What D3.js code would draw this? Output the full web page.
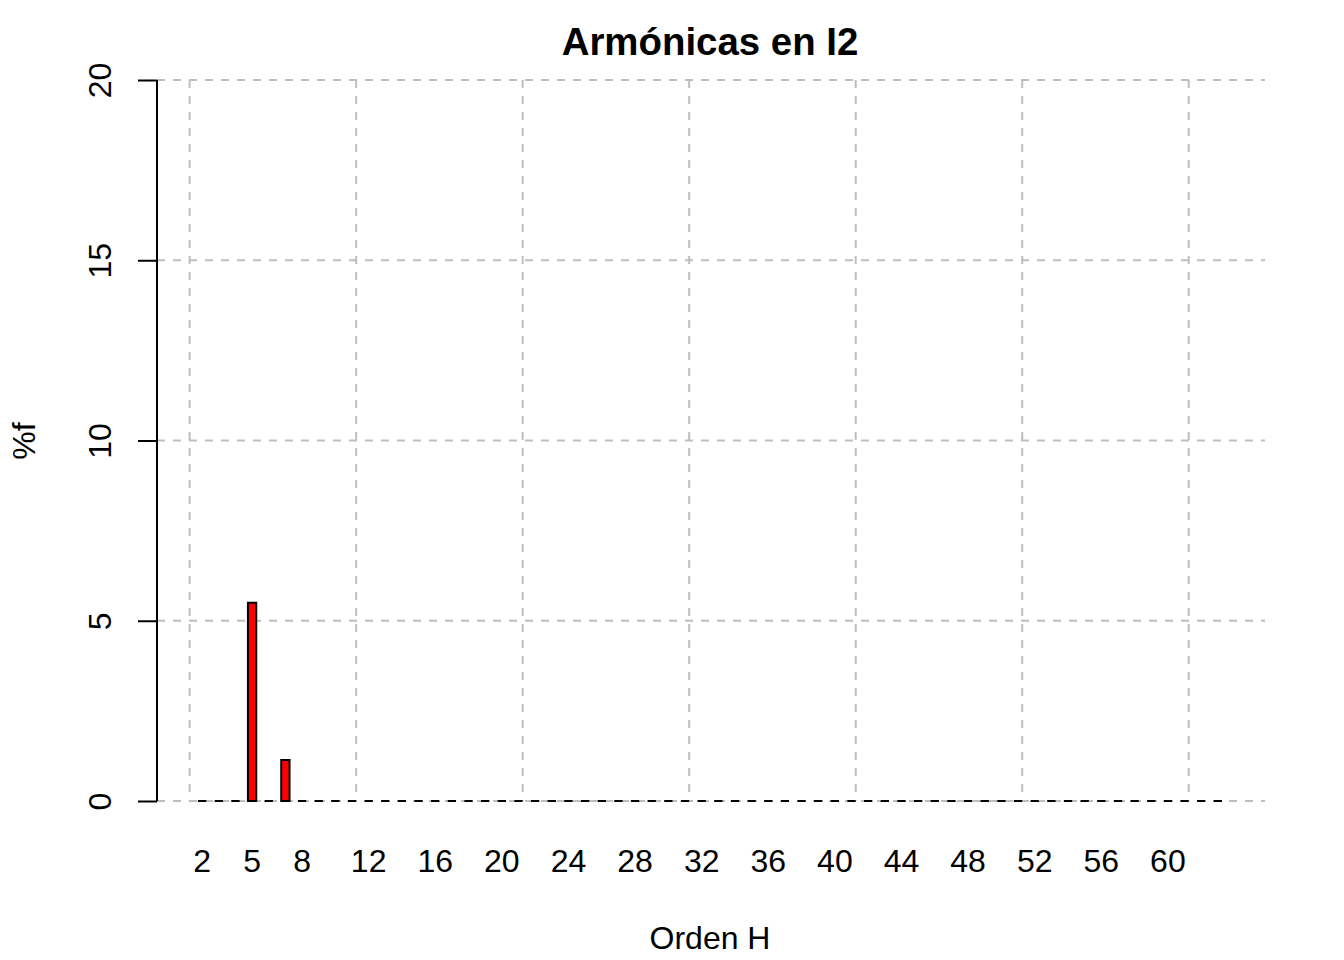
<!DOCTYPE html>
<html>
<head>
<meta charset="utf-8">
<script src="https://cdn.jsdelivr.net/npm/d3@7"></script>
<style>
  body { margin: 0; background: #fff; }
  svg { display: block; font-family: "Liberation Sans", Arial, sans-serif; }
</style>
</head>
<body>
<div class="chart"></div>
<script>
"use strict";

// harmonic orders 2..63 and their % of fundamental
var harmonics = d3.range(2, 64);
var values = harmonics.map(function(h){
  if (h === 5) return 5.5;
  if (h === 7) return 1.14;
  return 0;
});
var shownLabels = [2, 5, 8, 12, 16, 20, 24, 28, 32, 36, 40, 44, 48, 52, 56, 60];
var yTicks = [0, 5, 10, 15, 20];
var gridX = [0, 20, 40, 60, 80, 100, 120];

var width = 1344;
var height = 960;

var svg = d3.select('.chart')
            .append('svg')
            .attr('width', width)
            .attr('height', height);

// barplot units: bar i has left 2i-1, right 2i (space = 1)
var n = harmonics.length;
var span = 2 * n - 1;
var x = d3.scaleLinear()
          .domain([1 - 0.04 * span, 2 * n + 0.04 * span])
          .range([157, 1263]);
var y = d3.scaleLinear().domain([0, 20]).range([801, 80]);

function barLeft(h){ return 2 * (h - 1) - 1 }
function barCenter(h){ return 2 * (h - 1) - 0.5 }

// grid
var grid = svg.append('g')
              .attr('stroke', '#BEBEBE')
              .attr('stroke-width', 2)
              .attr('stroke-dasharray', '8,8');

grid.selectAll('.gx')
    .data(gridX)
    .enter().append('line')
    .attr('x1', function(d){ return x(d) })
    .attr('x2', function(d){ return x(d) })
    .attr('y1', y(20))
    .attr('y2', y(0));

grid.selectAll('.gy')
    .data(yTicks)
    .enter().append('line')
    .attr('x1', x.range()[0])
    .attr('x2', x.range()[1] + 2)
    .attr('y1', function(d){ return y(d) })
    .attr('y2', function(d){ return y(d) });

// bars as closed paths so zero-height bars still show their border
svg.selectAll('.bar')
   .data(harmonics)
   .enter().append('path')
   .attr('class', 'bar')
   .attr('d', function(h, i){
     var x0 = x(barLeft(h)), x1 = x(barLeft(h) + 1);
     var y0 = y(0), y1 = y(values[i]);
     return 'M' + x0 + ',' + y0 + 'V' + y1 + 'H' + x1 + 'V' + y0 + 'Z';
   })
   .attr('fill', 'red')
   .attr('stroke', 'black')
   .attr('stroke-width', 2);

// y axis
var yAxis = svg.append('g')
               .attr('transform', 'translate(' + x.range()[0] + ',0)')
               .call(d3.axisLeft(y).tickValues(yTicks).tickSize(19).tickPadding(0).tickFormat(function(d){ return d }));
yAxis.select('.domain').attr('stroke', 'black').attr('stroke-width', 2).attr('d', 'M0,' + y(0) + 'V' + y(20));
yAxis.selectAll('.tick line').attr('stroke', 'black').attr('stroke-width', 2);
yAxis.selectAll('.tick text')
     .attr('x', null).attr('dy', null)
     .attr('transform', 'translate(-46,0) rotate(-90)')
     .attr('text-anchor', 'middle')
     .attr('font-size', 32)
     .attr('fill', 'black')
     .attr('font-family', '"Liberation Sans", Arial, sans-serif');

// x labels (no axis line)
svg.selectAll('.xlab')
   .data(shownLabels)
   .enter().append('text')
   .attr('x', function(h){ return x(barCenter(h)) })
   .attr('y', 872)
   .attr('text-anchor', 'middle')
   .attr('font-size', 32)
   .text(function(h){ return h });

// titles
svg.append('text')
   .attr('x', 710).attr('y', 55)
   .attr('text-anchor', 'middle')
   .attr('font-size', 38.4)
   .attr('font-weight', 'bold')
   .text('Armónicas en I2');

svg.append('text')
   .attr('x', 710).attr('y', 949)
   .attr('text-anchor', 'middle')
   .attr('font-size', 32)
   .text('Orden H');

svg.append('text')
   .attr('transform', 'translate(35,441) rotate(-90)')
   .attr('text-anchor', 'middle')
   .attr('font-size', 32)
   .text('%f');
</script>
</body>
</html>
